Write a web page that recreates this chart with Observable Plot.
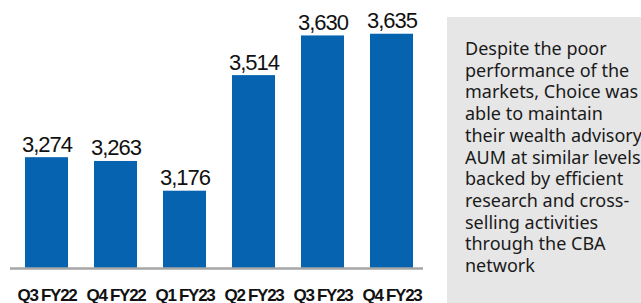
<!DOCTYPE html>
<html>
<head>
<meta charset="utf-8">
<script src="https://cdn.jsdelivr.net/npm/d3@7"></script>
<script src="https://cdn.jsdelivr.net/npm/@observablehq/plot@0.6"></script>
<style>
  html, body { margin: 0; padding: 0; background: #fff; }
  #wrap { position: relative; width: 641px; height: 303px; overflow: hidden; }
  #chart { position: absolute; left: 0; top: 0; }
  #note {
    position: absolute; left: 447px; top: 17px; width: 194px; height: 286px;
    background: #e6e6e6; box-sizing: border-box; padding: 21px 0 0 18px;
    font-family: "Noto Sans", sans-serif; font-size: 18px; line-height: 21.7px;
    color: #1a1a1a; white-space: nowrap; overflow: hidden;
  }
</style>
</head>
<body>
<div id="wrap">
  <div id="chart"></div>
  <div id="note"></div>
</div>
<script>
const quarters = ["Q3 FY22", "Q4 FY22", "Q1 FY23", "Q2 FY23", "Q3 FY23", "Q4 FY23"];
const aum = [3274, 3263, 3176, 3514, 3630, 3635];
const valueLabels = ["3,274", "3,263", "3,176", "3,514", "3,630", "3,635"];
const noteLines = [
  "Despite the poor",
  "performance of the",
  "markets, Choice was",
  "able to maintain",
  "their wealth advisory",
  "AUM at similar levels",
  "backed by efficient",
  "research and cross-",
  "selling activities",
  "through the CBA",
  "network"
];
const yBase = 2950;

const data = quarters.map((q, i) => ({q, v: aum[i], label: valueLabels[i]}));

const chart = Plot.plot({
  width: 441,
  height: 303,
  marginTop: 0, marginBottom: 0, marginLeft: 10, marginRight: 18,
  style: {background: "transparent", overflow: "visible"},
  x: {domain: quarters, range: [10.2, 427.8], paddingInner: 0.38, paddingOuter: 0.19, axis: null},
  y: {domain: [yBase, 3700], range: [268, 11.5], axis: null},
  marks: [
    Plot.barY(data, {x: "q", y1: yBase, y2: "v", fill: "#0563b0"}),
    Plot.ruleY([yBase], {stroke: "#a6a6a6", strokeWidth: 2.5}),
    Plot.text(data, {
      x: "q", y: "v", text: "label", dy: -6, lineAnchor: "bottom",
      fontSize: 22, fill: "#111",
      fontFamily: "'Liberation Sans', sans-serif"
    }),
    Plot.text(data, {
      x: "q", y: yBase, text: "q", dy: 32, lineAnchor: "bottom",
      fontSize: 17, fill: "#111", fontWeight: "bold",
      fontFamily: "'Liberation Sans', sans-serif"
    })
  ]
});
chart.querySelectorAll("text").forEach(t => {
  const s = t.textContent;
  if (quarters.includes(s)) t.setAttribute("letter-spacing", "-1.3");
  else if (valueLabels.includes(s)) t.setAttribute("letter-spacing", "-1");
});
document.getElementById("chart").appendChild(chart);
document.getElementById("note").innerHTML = noteLines.join("<br>");
</script>
</body>
</html>
